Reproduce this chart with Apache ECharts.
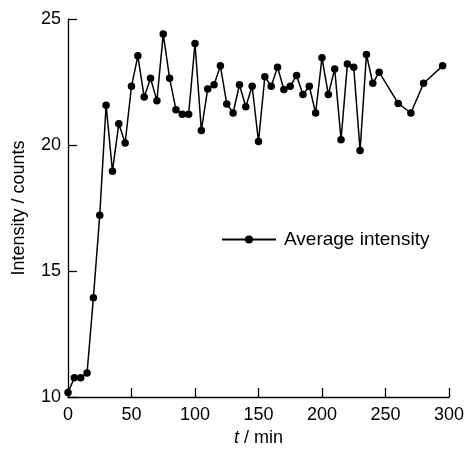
<!DOCTYPE html>
<html>
<head>
<meta charset="utf-8">
<script src="https://cdn.jsdelivr.net/npm/echarts@6/dist/echarts.min.js"></script>
<style>
html,body{margin:0;padding:0;background:#fff;}
#c{width:467px;height:452px;}
</style>
</head>
<body>
<div id="c"></div>
<script>
// Data
const timeMin = [0,5,10,15,20,25,30,35,40,45,50,55,60,65,70,75,80,85,90,95,100,105,110,115,120,125,130,135,140,145,150,155,160,165,170,175,180,185,190,195,200,205,210,215,220,225,230,235,240,245,260,270,280,295];
const avgIntensity = [10.18,10.76,10.76,10.95,13.94,17.21,21.58,18.96,20.84,20.08,22.33,23.54,21.9,22.65,21.76,24.4,22.65,21.4,21.22,21.22,24.03,20.58,22.22,22.39,23.14,21.63,21.27,22.39,21.52,22.33,20.14,22.71,22.33,23.09,22.2,22.33,22.76,22.0,22.33,21.27,23.46,22.0,23.02,20.21,23.21,23.09,19.78,23.59,22.45,22.89,21.65,21.27,22.45,23.14];
const seriesName = 'Average intensity';
const xTicks = [0,50,100,150,200,250,300];
const yTicks = [10,15,20,25];

const font = '"Liberation Sans", Arial, sans-serif';
const chart = echarts.init(document.getElementById('c'), null, {renderer:'canvas'});
const axisCommon = {
  axisLine:{show:true, lineStyle:{color:'#000', width:1.3}},
  axisTick:{show:true, inside:true, length:9, lineStyle:{color:'#000', width:1.3}},
  splitLine:{show:false},
  axisLabel:{color:'#000', fontSize:18, fontFamily:font},
  nameTextStyle:{color:'#000', fontSize:18, fontFamily:font}
};
chart.setOption({
  animation:false,
  backgroundColor:'#fff',
  grid:{left:68, right:17, top:19, bottom:47, containLabel:false},
  legend:{
    show:true, left:221, top:230, padding:0,
    itemWidth:54, itemHeight:10,
    textStyle:{color:'#000', fontSize:19, fontFamily:font, padding:[0,0,0,3]},
    data:[seriesName]
  },
  xAxis:Object.assign({}, axisCommon, {
    type:'value', min:xTicks[0], max:xTicks[xTicks.length-1], interval:50,
    name:'{i|t} / min', nameLocation:'middle', nameGap:32,
    nameTextStyle:{color:'#000', fontSize:18, fontFamily:font, rich:{i:{fontStyle:'italic', fontSize:18, fontFamily:font, color:'#000'}}},
    axisLabel:{color:'#000', fontSize:18, fontFamily:font, margin:9}
  }),
  yAxis:Object.assign({}, axisCommon, {
    type:'value', min:yTicks[0], max:yTicks[yTicks.length-1], interval:5,
    name:'Intensity / counts', nameLocation:'middle', nameGap:40,
    axisLabel:{color:'#000', fontSize:18, fontFamily:font, margin:7}
  }),
  series:[{
    name:seriesName, type:'line',
    data:timeMin.map((t,i)=>[t, avgIntensity[i]]),
    symbol:'circle', symbolSize:7.5, showSymbol:true,
    itemStyle:{color:'#000'},
    lineStyle:{color:'#000', width:1.5},
    clip:false
  }]
});
</script>
</body>
</html>
